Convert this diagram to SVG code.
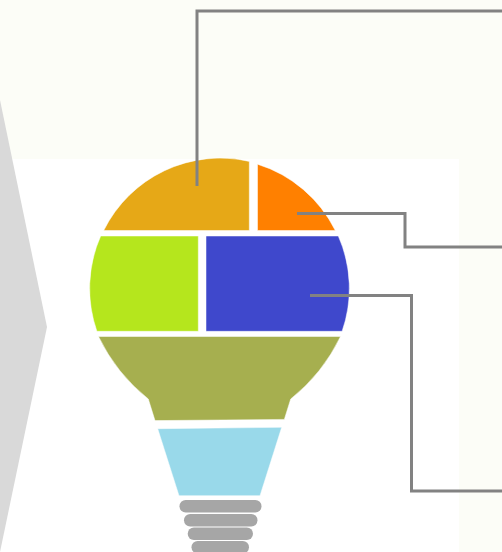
<svg xmlns="http://www.w3.org/2000/svg" width="502" height="552" viewBox="0 0 502 552">
<style>
.conn{fill:none;stroke:#828282;stroke-width:3}
.seg{stroke:#fff;stroke-width:.5}
.base{fill:#a6a6a6}
</style>
<rect id="background" width="502" height="552" fill="#fcfdf7"/>
<rect id="panel" x="0" y="159" width="459" height="393" fill="#fff"/>
<polygon id="chevron" points="0,100 47,327 0,552" fill="#d9d9d9"/>
<g id="segment-top-left"><path class="seg" fill="#e6a817" d="M103.7 230.5A130 130 0 0 1 249.3 161.4V230.5Z"/></g>
<g id="segment-top-right"><path class="seg" fill="#ff8000" d="M257.5 164.2A130 130 0 0 1 335.3 230.5H257.5Z"/></g>
<g id="segment-mid-left"><path class="seg" fill="#b5e61d" d="M100.7 236H198.3V331.3H96.9A130 130 0 0 1 100.7 236Z"/></g>
<g id="segment-mid-right"><path class="seg" fill="#3f48cc" d="M206 236H338.3A130 130 0 0 1 342.1 331.3H206Z"/></g>
<g id="segment-neck"><path class="seg" fill="#a6af4f" d="M98.5 336.5H340.5A180 180 0 0 1 290.7 399L284.3 419.4L155 420.6L148.3 399A180 180 0 0 1 98.5 336.5Z"/></g>
<g id="segment-collar"><polygon class="seg" fill="#99d9ea" points="157.7,428.7 281.7,427.3 260,495.7 179,495.7"/></g>
<g id="bulb-base">
<rect class="base" x="179.5" y="500" width="82" height="12.5" rx="6.2"/>
<rect class="base" x="184" y="514" width="73.5" height="12.5" rx="6.2"/>
<rect class="base" x="187.7" y="527.5" width="65.3" height="12.5" rx="6.2"/>
<rect class="base" x="191.5" y="541" width="57.5" height="12.5" rx="6.2"/>
</g>
<g id="connectors">
<path class="conn" d="M197 186V11H502"/>
<path class="conn" d="M297 213.5H405V247H502"/>
<path class="conn" d="M310 295.5H411.5V491H502"/>
</g>
</svg>
